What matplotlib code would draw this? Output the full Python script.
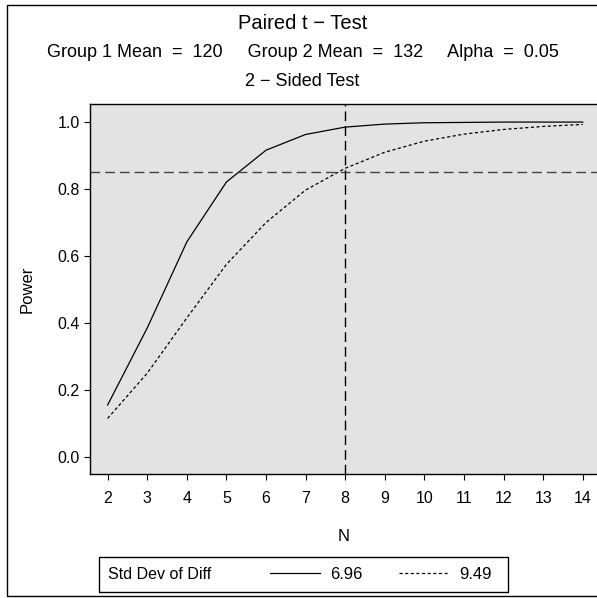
import matplotlib
matplotlib.use('Agg')
import matplotlib.pyplot as plt
from matplotlib.lines import Line2D
from matplotlib.patches import Rectangle

plt.rcParams['font.family'] = ['Liberation Sans', 'DejaVu Sans']

n_values = [2, 3, 4, 5, 6, 7, 8, 9, 10, 11, 12, 13, 14]
power_696 = [0.155, 0.385, 0.642, 0.821, 0.916, 0.963, 0.985, 0.994, 0.998, 0.999, 1.0, 1.0, 1.0]
power_949 = [0.115, 0.250, 0.415, 0.575, 0.700, 0.797, 0.862, 0.910, 0.943, 0.964, 0.978, 0.987, 0.993]
sd_labels = ['6.96', '9.49']
target_power = 0.85
target_n = 8

W, H = 597, 598
fig = plt.figure(figsize=(W / 100, H / 100), dpi=100)
ax = fig.add_axes([90 / W, 1 - 474 / H, 1 - 90 / W, (474 - 104) / H])
ax.set_facecolor('#e3e3e3')

ax.plot(n_values, power_696, color='black', lw=0.9, ls='-')
ax.plot(n_values, power_949, color='black', lw=0.9, ls=(0, (2.5, 2)))
ax.axhline(target_power, color='#444444', lw=1.0, ls=(0, (7, 3.6)))
ax.axvline(target_n, color='black', lw=1.0, ls=(0, (7, 3.6)))

ax.set_xlim(1.555, 14.36)
ax.set_ylim(-0.051, 1.054)
ax.set_xticks(n_values)
ax.set_yticks([0.0, 0.2, 0.4, 0.6, 0.8, 1.0])
ax.set_yticklabels(['0.0', '0.2', '0.4', '0.6', '0.8', '1.0'])
ax.tick_params(direction='out', length=4.5, width=0.8, labelsize=11.5, colors='black')
ax.tick_params(axis='x', pad=8)
ax.tick_params(axis='y', pad=3)
ax.spines['right'].set_visible(False)
for s in ['left', 'top', 'bottom']:
    ax.spines[s].set_linewidth(1.0)

ax.set_xlabel('N', fontsize=12, labelpad=16)
ax.set_ylabel('Power', fontsize=12, labelpad=16)

cx = 0.507
fig.text(cx, 1 - 29 / H, 'Paired t \u2212 Test', ha='center', va='baseline', fontsize=14.5)
fig.text(cx, 1 - 57 / H, 'Group 1 Mean  =  120     Group 2 Mean  =  132     Alpha  =  0.05',
         ha='center', va='baseline', fontsize=13)
fig.text(cx, 1 - 86 / H, '2 \u2212 Sided Test', ha='center', va='baseline', fontsize=13)

# legend box under the plot
box_y0, box_y1 = 1 - 592 / H, 1 - 557 / H
box_mid = (box_y0 + box_y1) / 2
fig.patches.append(Rectangle((99 / W, box_y0), (508 - 99) / W, box_y1 - box_y0,
                             transform=fig.transFigure, fill=False, edgecolor='black', lw=1.0))
fig.text(108 / W, box_mid, 'Std Dev of Diff', ha='left', va='center', fontsize=11.5)
handles = [Line2D([], [], color='black', lw=0.9, ls='-'),
           Line2D([], [], color='black', lw=0.9, ls=(0, (2.5, 2)))]
fig.legend(handles, sd_labels, ncol=2, loc='center left', bbox_to_anchor=(270 / W, box_mid),
           frameon=False, fontsize=12, handlelength=3.0, handletextpad=0.6,
           columnspacing=2.2, borderpad=0, borderaxespad=0)

# outer border
fig.patches.append(Rectangle((7 / W, 2 / H), 1.2, 591 / H, transform=fig.transFigure,
                             fill=False, edgecolor='black', lw=1.0))

fig.savefig('out.png', dpi=100)
